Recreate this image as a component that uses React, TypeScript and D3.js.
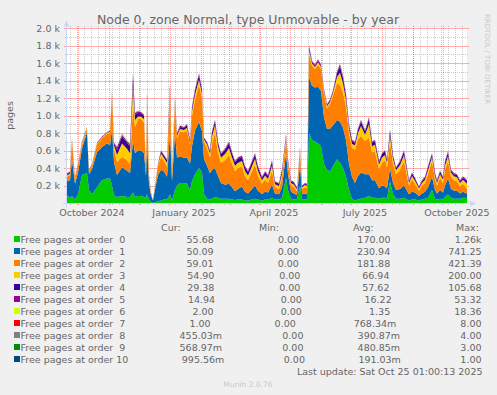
import * as d3 from 'd3'
import { useMemo } from 'react'

// days since the start of the year window (one pixel per day)
const dayOffsets = [
    0, 3, 5, 8, 11, 15, 20, 22, 25, 30, 35, 40,
    43, 45, 47, 50, 55, 60, 63, 66, 68, 71, 74, 77,
    79, 80, 82, 84, 86, 88, 91, 94, 97, 100, 103, 105,
    108, 110, 113, 117, 120, 123, 125, 128, 132, 135, 137, 140,
    143, 145, 148, 151, 154, 158, 162, 165, 168, 171, 175, 178,
    181, 185, 188, 191, 195, 198, 201, 205, 208, 212, 215, 219,
    221, 224, 227, 230, 233, 235, 238, 240, 242, 245, 248, 251,
    254, 257, 260, 263, 266, 270, 273, 276, 279, 282, 285, 288,
    291, 294, 298, 302, 305, 308, 312, 315, 318, 320, 323, 326,
    329, 333, 337, 340, 342, 345, 348, 352, 355, 358, 361, 365,
    368, 370, 373, 376, 378, 381, 384, 387, 390, 393, 396, 400,
]

const order0 = [
    90, 60, 80, 40, 100, 320, 340, 150, 100, 180, 260, 280,
    280, 200, 90, 70, 80, 70, 70, 120, 70, 80, 80, 70,
    60, 100, 40, 10, 0, 10, 20, 30, 40, 40, 100, 30,
    150, 200, 230, 230, 220, 150, 250, 330, 400, 350, 100, 50,
    40, 50, 70, 60, 50, 50, 50, 40, 35, 40, 40, 30,
    30, 40, 50, 40, 30, 40, 40, 60, 40, 40, 60, 290,
    150, 50, 40, 40, 200, 40, 40, 40, 800, 720, 700, 680,
    650, 450, 380, 360, 420, 500, 460, 400, 300, 150, 50, 30,
    40, 50, 60, 80, 60, 60, 50, 60, 60, 50, 250, 100,
    50, 50, 60, 40, 30, 40, 40, 30, 40, 50, 60, 150,
    50, 40, 50, 40, 70, 100, 60, 50, 50, 50, 60, 56,
]
const order1 = [
    160, 200, 420, 180, 250, 300, 470, 180, 290, 400, 380, 400,
    380, 650, 380, 250, 330, 300, 270, 600, 500, 520, 520, 500,
    250, 600, 180, 80, 30, 150, 300, 350, 320, 260, 700, 220,
    650, 320, 300, 290, 300, 300, 400, 500, 530, 470, 400, 380,
    300, 330, 330, 250, 180, 160, 170, 140, 100, 120, 150, 100,
    80, 120, 150, 100, 70, 90, 80, 150, 70, 60, 120, 280,
    180, 80, 70, 50, 250, 60, 70, 60, 640, 620, 620, 650,
    630, 530, 470, 490, 470, 450, 470, 460, 420, 300, 250, 200,
    270, 300, 270, 250, 200, 200, 120, 140, 130, 120, 150, 130,
    100, 110, 140, 100, 70, 90, 80, 50, 70, 80, 120, 150,
    100, 70, 100, 80, 130, 180, 100, 90, 90, 60, 70, 50,
]
const order2 = [
    50, 60, 200, 50, 70, 50, 40, 30, 40, 90, 100, 110,
    140, 380, 150, 150, 120, 120, 110, 420, 300, 360, 360, 350,
    80, 400, 60, 20, 5, 30, 100, 150, 120, 120, 420, 100,
    320, 220, 290, 290, 310, 220, 350, 350, 420, 380, 200, 200,
    180, 300, 400, 270, 230, 280, 330, 270, 230, 240, 230, 180,
    150, 200, 240, 170, 120, 140, 110, 160, 70, 60, 110, 150,
    110, 70, 70, 45, 140, 60, 70, 70, 260, 230, 210, 250,
    250, 270, 230, 280, 340, 420, 420, 400, 380, 350, 330, 380,
    420, 420, 380, 420, 320, 330, 220, 260, 300, 240, 300, 220,
    180, 220, 280, 170, 100, 140, 100, 60, 90, 100, 150, 180,
    120, 90, 140, 110, 180, 200, 140, 120, 110, 80, 90, 59,
]
const order3 = [
    15, 15, 20, 15, 15, 15, 10, 10, 10, 10, 10, 10,
    15, 30, 40, 80, 150, 130, 120, 200, 80, 30, 30, 40,
    20, 100, 20, 5, 0, 5, 15, 35, 35, 40, 80, 30,
    40, 30, 25, 25, 30, 20, 50, 60, 60, 50, 30, 40,
    45, 80, 90, 70, 60, 70, 80, 70, 60, 60, 60, 55,
    55, 60, 65, 55, 40, 45, 45, 60, 35, 35, 45, 35,
    30, 30, 30, 20, 25, 20, 25, 25, 50, 25, 25, 30,
    25, 25, 25, 25, 30, 70, 140, 110, 80, 50, 45, 50,
    70, 110, 70, 150, 70, 75, 50, 60, 60, 50, 70, 55,
    45, 55, 65, 50, 30, 40, 35, 25, 30, 35, 45, 45,
    40, 30, 40, 35, 50, 55, 45, 45, 45, 40, 45, 55,
]
const order4 = [
    8, 10, 10, 8, 8, 8, 5, 5, 5, 5, 5, 5,
    8, 15, 20, 60, 80, 70, 80, 100, 60, 40, 35, 35,
    15, 60, 15, 3, 0, 3, 10, 25, 25, 30, 50, 15,
    25, 20, 25, 25, 25, 20, 35, 45, 50, 40, 15, 20,
    25, 45, 45, 40, 40, 45, 50, 45, 40, 45, 45, 40,
    40, 45, 50, 40, 30, 35, 35, 45, 25, 25, 35, 25,
    20, 20, 20, 15, 15, 12, 15, 15, 35, 15, 15, 20,
    15, 15, 15, 15, 20, 45, 70, 60, 50, 35, 35, 30,
    40, 50, 40, 60, 40, 45, 30, 40, 40, 30, 50, 35,
    25, 35, 45, 30, 20, 30, 25, 17, 20, 25, 35, 35,
    30, 20, 30, 25, 40, 40, 25, 25, 25, 20, 25, 29,
]
const order5 = [
    17, 15, 10, 7, 7, 7, 5, 5, 5, 5, 5, 5,
    7, 15, 10, 30, 20, 20, 20, 40, 20, 20, 15, 15,
    5, 30, 5, 2, 0, 2, 5, 10, 10, 10, 20, 5,
    15, 10, 15, 10, 15, 10, 15, 15, 20, 10, 5, 10,
    10, 15, 15, 10, 10, 15, 20, 15, 15, 15, 15, 15,
    15, 15, 15, 15, 10, 10, 10, 15, 10, 10, 10, 10,
    10, 10, 10, 10, 10, 8, 10, 10, 15, 10, 10, 10,
    10, 10, 10, 10, 10, 15, 30, 20, 20, 15, 10, 10,
    10, 20, 10, 20, 10, 10, 10, 10, 10, 10, 20, 10,
    10, 10, 10, 10, 10, 10, 10, 8, 10, 10, 10, 10,
    10, 10, 10, 10, 10, 15, 10, 10, 10, 10, 10, 15,
]
const order6 = [
    2, 2, 3, 1, 1, 1, 1, 1, 1, 1, 1, 1,
    1, 3, 2, 5, 8, 6, 5, 10, 4, 2, 2, 2,
    1, 5, 1, 0, 0, 0, 1, 2, 2, 2, 4, 1,
    2, 1, 1, 1, 1, 1, 2, 3, 3, 2, 1, 1,
    1, 2, 2, 1, 1, 1, 2, 1, 1, 1, 1, 1,
    1, 1, 1, 1, 1, 1, 1, 1, 1, 1, 1, 1,
    1, 1, 1, 1, 1, 1, 1, 1, 2, 1, 1, 1,
    1, 1, 1, 1, 1, 2, 4, 3, 2, 1, 1, 1,
    1, 2, 1, 3, 1, 1, 1, 1, 1, 1, 2, 1,
    1, 1, 1, 1, 1, 1, 1, 1, 1, 1, 1, 1,
    1, 1, 1, 1, 1, 2, 1, 1, 1, 1, 1, 2,
]
const order7 = [
    1, 1, 1, 0, 0, 0, 0, 0, 0, 0, 0, 0,
    0, 2, 1, 2, 3, 2, 2, 4, 2, 1, 1, 1,
    0, 2, 0, 0, 0, 0, 0, 1, 1, 1, 2, 0,
    1, 1, 1, 1, 1, 1, 1, 1, 1, 1, 0, 0,
    1, 1, 1, 1, 1, 1, 1, 1, 1, 1, 1, 1,
    1, 1, 1, 1, 0, 1, 1, 1, 0, 0, 1, 1,
    1, 0, 0, 0, 1, 0, 0, 0, 1, 1, 1, 1,
    1, 1, 1, 1, 1, 1, 2, 1, 1, 1, 1, 1,
    1, 1, 1, 2, 1, 1, 1, 1, 1, 1, 1, 1,
    1, 1, 1, 1, 0, 1, 1, 0, 1, 1, 1, 1,
    1, 1, 1, 1, 1, 1, 1, 1, 1, 1, 1, 1,
]
const order8 = [
    0, 0, 1, 0, 0, 0, 0, 0, 0, 0, 0, 0,
    0, 1, 0, 1, 1, 1, 1, 2, 1, 0, 0, 0,
    0, 1, 0, 0, 0, 0, 0, 0, 0, 0, 1, 0,
    1, 0, 0, 0, 0, 0, 1, 1, 1, 0, 0, 0,
    0, 0, 1, 0, 0, 0, 1, 0, 0, 0, 0, 0,
    0, 0, 1, 0, 0, 0, 0, 1, 0, 0, 0, 0,
    0, 0, 0, 0, 0, 0, 0, 0, 1, 1, 0, 1,
    0, 0, 0, 0, 1, 1, 1, 1, 1, 0, 0, 0,
    1, 1, 0, 1, 0, 0, 0, 1, 1, 0, 1, 0,
    0, 0, 1, 0, 0, 0, 0, 0, 0, 0, 1, 0,
    0, 0, 0, 0, 0, 1, 0, 0, 0, 0, 0, 0,
]
const order9 = [
    1, 1, 1, 0, 0, 0, 0, 0, 0, 0, 0, 0,
    0, 1, 0, 1, 1, 1, 1, 1, 1, 0, 0, 0,
    0, 1, 0, 0, 0, 0, 0, 0, 0, 0, 1, 0,
    0, 0, 0, 0, 0, 0, 1, 1, 1, 0, 0, 0,
    0, 1, 1, 0, 0, 0, 1, 0, 0, 0, 0, 0,
    0, 0, 1, 0, 0, 0, 0, 1, 0, 0, 0, 1,
    0, 0, 0, 0, 1, 0, 0, 0, 1, 1, 1, 1,
    1, 1, 1, 1, 1, 1, 1, 1, 1, 0, 0, 0,
    1, 1, 1, 1, 0, 0, 0, 1, 1, 0, 1, 0,
    0, 0, 1, 0, 0, 0, 0, 0, 0, 0, 1, 0,
    0, 0, 1, 0, 0, 1, 0, 0, 0, 0, 1, 1,
]
const order10 = [
    0, 0, 0, 0, 0, 0, 0, 0, 0, 0, 0, 0,
    0, 1, 0, 0, 0, 0, 0, 1, 0, 0, 0, 0,
    0, 0, 0, 0, 0, 0, 0, 0, 0, 0, 1, 0,
    0, 0, 0, 0, 0, 0, 0, 0, 0, 0, 0, 0,
    0, 0, 0, 0, 0, 0, 0, 0, 0, 0, 0, 0,
    0, 0, 0, 0, 0, 0, 0, 0, 0, 0, 0, 0,
    0, 0, 0, 0, 0, 0, 0, 0, 1, 1, 0, 0,
    0, 0, 0, 0, 0, 0, 0, 0, 0, 0, 0, 0,
    0, 0, 0, 0, 0, 0, 0, 0, 0, 0, 0, 0,
    0, 0, 0, 0, 0, 0, 0, 0, 0, 0, 0, 0,
    0, 0, 0, 0, 0, 0, 0, 0, 0, 0, 1, 1,
]

const seriesValues = [order0, order1, order2, order3, order4, order5, order6, order7, order8, order9, order10]
const seriesColors = ['#00CC00', '#0066B3', '#FF8000', '#FFCC00', '#330099', '#990099', '#CCFF00', '#FF0000', '#808080', '#008F00', '#00487D']

const curValues = [55.68, 50.09, 59.01, 54.9, 29.38, 14.94, 2.0, 1.0, 0.45503, 0.56897, 0.99556]
const minValues = [0, 0, 0, 0, 0, 0, 0, 0, 0, 0, 0]
const avgValues = [170.0, 230.94, 181.88, 66.94, 57.62, 16.22, 1.35, 0.76834, 0.39087, 0.48085, 0.19103]
const maxValues = [1260, 741.25, 421.39, 200.0, 105.68, 53.32, 18.36, 8.0, 4.0, 3.0, 1.0]

const yTicks = [200, 400, 600, 800, 1000, 1200, 1400, 1600, 1800, 2000]
const legendHeaders = ['Cur:', 'Min:', 'Avg:', 'Max:']

const startDate = new Date(2024, 8, 20, 1, 0, 13)
const endDate = new Date(2025, 9, 25, 1, 0, 13)

const FONT = 'DejaVu Sans, sans-serif'
const TEXT = '#666666'

function rrdFmt(v: number) {
    let n = v
    let s = ''
    if (v !== 0 && Math.abs(v) < 1) {
        n = v * 1000
        s = 'm'
    } else if (Math.abs(v) >= 1000) {
        n = v / 1000
        s = 'k'
    }
    return n.toFixed(2).padStart(6, ' ') + s
}

export default function App() {
    const left = 67
    const right = 467
    const top = 28
    const bottom = 203

    const x = d3.scaleTime().domain([startDate, endDate]).range([left, right])
    const y = d3.scaleLinear().domain([0, 2000]).range([bottom, top])

    const keys = seriesValues.map((_, i) => 'order' + i)
    const rows = dayOffsets.map((d, i) => {
        const row: any = { date: d3.timeDay.offset(startDate, d) }
        keys.forEach((k, j) => (row[k] = seriesValues[j][i]))
        return row
    })
    const stacked = d3.stack().keys(keys)(rows)

    const area = d3
        .area<any>()
        .x((d) => x(d.data.date))
        .y0((d) => y(d[0]))
        .y1((d) => y(d[1]))

    const weeks = d3.timeMonday.range(startDate, endDate)
    const months = d3.timeMonth.range(startDate, endDate)
    const labelMonths = d3.timeMonth.every(3)!.range(startDate, endDate)
    const fmtMonth = d3.timeFormat('%B %Y')

    const minorY = d3.range(100, 2001, 100)

    const measure = useMemo(() => {
        const ctx = document.createElement('canvas').getContext('2d')!
        ctx.font = `9.5px ${FONT}`
        return (s: string) => ctx.measureText(s).width
    }, [])

    // rrdtool style justified legend lines
    const labelX = 20.5
    const lineRight = 481.5
    const legendRows = seriesValues.map((_, i) => {
        const label = 'Free pages at order ' + String(i).padStart(2, ' ')
        const vals = [curValues[i], minValues[i], avgValues[i], maxValues[i]].map(rrdFmt)
        const labelEnd = labelX + measure(label)
        const widths = vals.map(measure)
        const gap = (lineRight - labelEnd - d3.sum(widths)) / 4
        let pos = labelEnd
        const xs = widths.map((w) => {
            const p = pos + gap
            pos = p + w
            return p
        })
        return { label, vals, xs }
    })
    const headerX = [161, 259, 353, 456]

    const gridGray = 'rgba(143,143,143,0.45)'
    const gridRed = 'rgba(255,0,0,0.35)'
    const axisColor = '#CFD6F8'

    return (
        <svg
            width={497}
            height={395}
            style={{ position: 'absolute', left: 0, top: 0 }}
            fontFamily={FONT}
        >
            <rect width={497} height={395} fill="#F0F0F0" />
            <rect x={left} y={top} width={right - left} height={bottom - top} fill="#FFFFFF" />

            <text x={248} y={24} textAnchor="middle" fontSize={12.5} fill={TEXT}>
                Node 0, zone Normal, type Unmovable - by year
            </text>

            <g strokeDasharray="1,1" strokeWidth={1}>
                {weeks.map((w) => (
                    <line
                        key={'w' + +w}
                        x1={Math.round(x(w)) + 0.5}
                        x2={Math.round(x(w)) + 0.5}
                        y1={top - 2}
                        y2={bottom + 2}
                        stroke={gridGray}
                    />
                ))}
                {minorY.map((v) => (
                    <line
                        key={'my' + v}
                        x1={left - 2}
                        x2={right + 2}
                        y1={Math.round(y(v)) + 0.5}
                        y2={Math.round(y(v)) + 0.5}
                        stroke={gridGray}
                    />
                ))}
                {months.map((m) => (
                    <line
                        key={'m' + +m}
                        x1={Math.round(x(m)) + 0.5}
                        x2={Math.round(x(m)) + 0.5}
                        y1={top - 2}
                        y2={bottom + 3}
                        stroke={gridRed}
                    />
                ))}
                {yTicks.map((v) => (
                    <line
                        key={'My' + v}
                        x1={left - 3}
                        x2={right + 2}
                        y1={Math.round(y(v)) + 0.5}
                        y2={Math.round(y(v)) + 0.5}
                        stroke={gridRed}
                    />
                ))}
            </g>

            <g>
                {stacked.map((s, i) => (
                    <path key={s.key} d={area(s as any) || ''} fill={seriesColors[i]} />
                ))}
            </g>

            <g>
                <line x1={63} x2={471} y1={bottom + 0.5} y2={bottom + 0.5} stroke={axisColor} />
                <path d={`M470,${bottom - 2.5}L476,${bottom + 0.5}L470,${bottom + 3.5}Z`} fill={axisColor} />
                <line x1={left - 0.5} x2={left - 0.5} y1={bottom + 4} y2={26} stroke={axisColor} />
                <path d={`M${left - 3.5},26.5L${left - 0.5},20.5L${left + 2.5},26.5Z`} fill={axisColor} />
            </g>

            <g fontSize={9.5} fill={TEXT}>
                {yTicks.map((v) => (
                    <text key={'yl' + v} x={60} y={y(v) + 3.5} textAnchor="end">
                        {(v / 1000).toFixed(1) + ' k'}
                    </text>
                ))}
                {labelMonths.map((m) => (
                    <text key={'xl' + +m} x={x(d3.timeDay.offset(m, 14))} y={215.5} textAnchor="middle">
                        {fmtMonth(m)}
                    </text>
                ))}
                <text transform="translate(12.5,115.5) rotate(-90)" textAnchor="middle">
                    pages
                </text>
            </g>

            <text transform="translate(485,14) rotate(90)" fontSize={7} fill="#C8C8C8">
                RRDTOOL / TOBI OETIKER
            </text>

            <g fontSize={9.5} fill={TEXT} style={{ whiteSpace: 'pre' }}>
                {legendHeaders.map((h, i) => (
                    <text key={h} x={headerX[i]} y={230.5}>
                        {h}
                    </text>
                ))}
                {legendRows.map((r, i) => {
                    const base = 242.5 + i * 12
                    return (
                        <g key={r.label}>
                            <rect x={14} y={base - 6.5} width={6} height={6} fill={seriesColors[i]} />
                            <text x={labelX} y={base} xmlSpace="preserve">
                                {r.label}
                            </text>
                            {r.vals.map((v, j) => (
                                <text key={j} x={r.xs[j]} y={base} xmlSpace="preserve">
                                    {v}
                                </text>
                            ))}
                        </g>
                    )
                })}
                <text x={482.5} y={374.5} textAnchor="end">
                    Last update: Sat Oct 25 01:00:13 2025
                </text>
            </g>

            <text x={248} y={386.5} textAnchor="middle" fontSize={7.5} fill="#C8C8C8">
                Munin 2.0.76
            </text>
        </svg>
    )
}
